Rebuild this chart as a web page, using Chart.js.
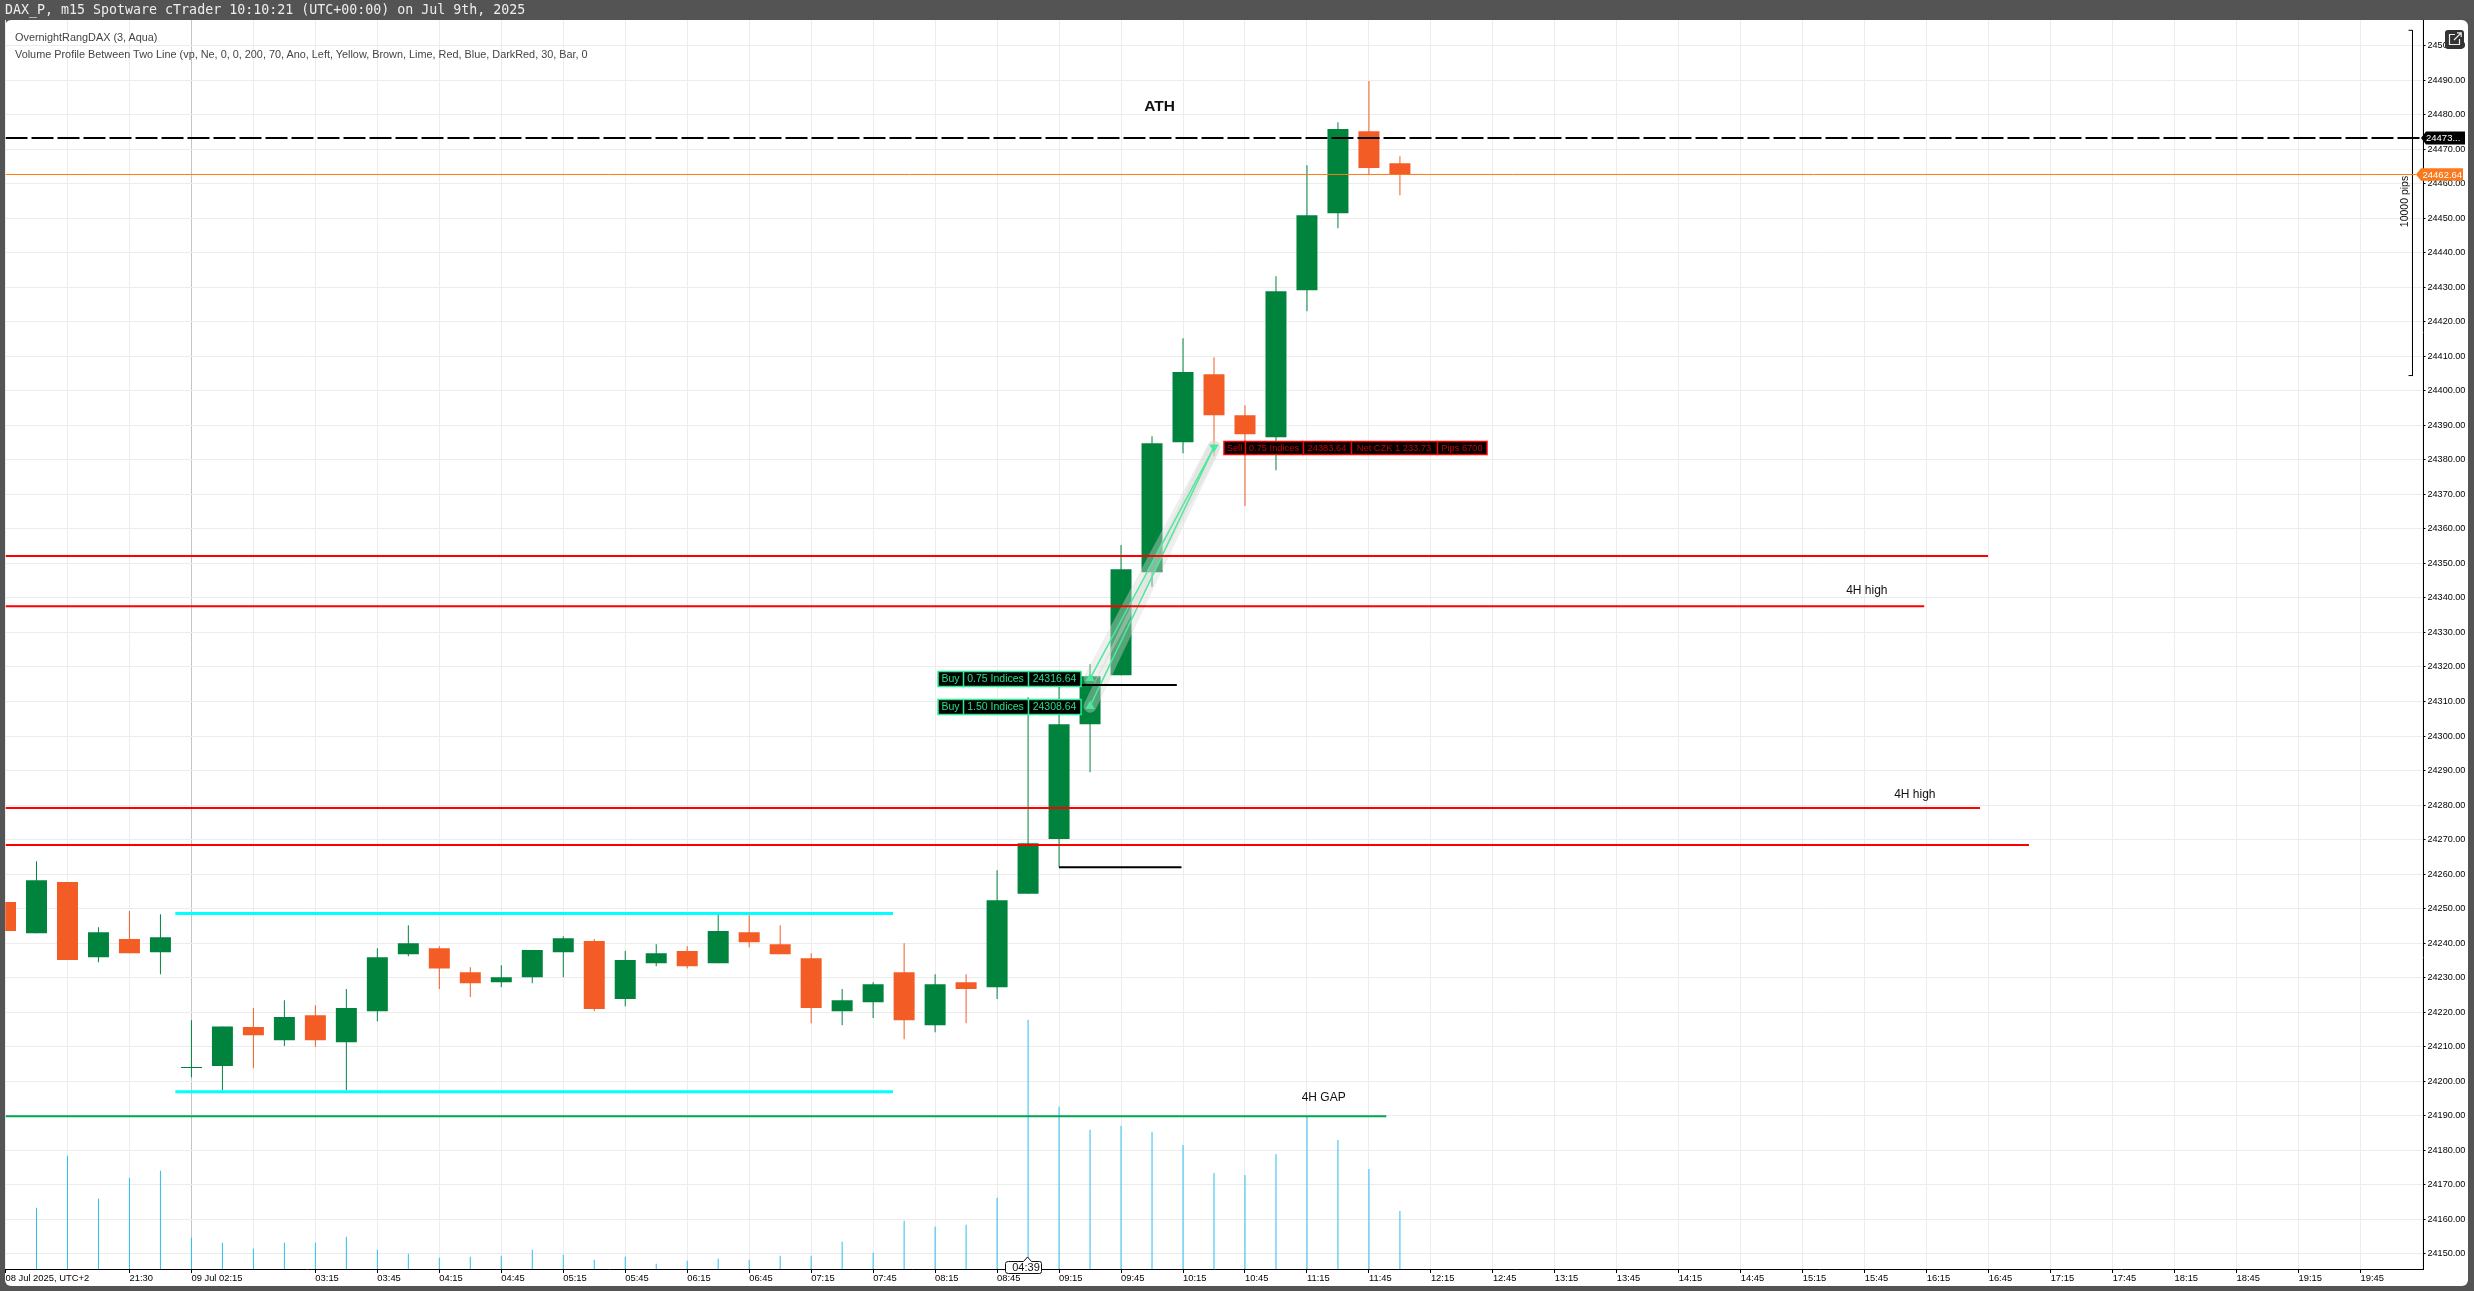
<!DOCTYPE html>
<html>
<head>
<meta charset="utf-8">
<title>DAX_P m15</title>
<style>
  html, body { margin: 0; padding: 0; width: 2474px; height: 1291px; overflow: hidden; background: #545454; }
  #panel { position: absolute; left: 5px; top: 20px; width: 2463px; height: 1266px; background: #fff; border-radius: 6px; }
  #my-chart { position: absolute; left: 0; top: 0; }
  #title { position: absolute; left: 5px; top: 2px; font: 13.3px "DejaVu Sans Mono", monospace; color: #eee; white-space: pre; }
  .indicator { position: absolute; left: 15px; font: 10.86px "Liberation Sans", sans-serif; color: #444; white-space: pre; }
</style>
</head>
<body>
<div id="panel"></div>
<canvas id="my-chart" width="2474" height="1291"></canvas>
<div id="title">DAX_P, m15 Spotware cTrader 10:10:21 (UTC+00:00) on Jul 9th, 2025</div>
<div class="indicator" style="top:31px">OvernightRangDAX (3, Aqua)</div>
<div class="indicator" style="top:48px">Volume Profile Between Two Line (vp, Ne, 0, 0, 200, 70, Ano, Left, Yellow, Brown, Lime, Red, Blue, DarkRed, 30, Bar, 0</div>

<script src="https://cdn.jsdelivr.net/npm/chart.js@4"></script>
<script>
'use strict';

// Candles, one per 15 minute bar
let opens = [24251.9, 24242.9, 24257.7, 24235.9, 24241.2, 24237.4, 24203.85, 24204.4, 24215.7, 24211.9,
  24219.1, 24211.3, 24220.3, 24236.8, 24238.5, 24231.6, 24228.7, 24230.1, 24237.4, 24240.6,
  24223.8, 24234.2, 24237.7, 24234.2, 24243.2, 24239.7, 24235.6, 24220.3, 24222.9, 24231.6,
  24216.2, 24228.7, 24227.2, 24254.3, 24270.2, 24303.4, 24317.6, 24347.4, 24385.1, 24404.8,
  24392.9, 24386.5, 24429.1, 24451.4, 24475.2, 24465.9];
let highs = [24251.9, 24263.7, 24257.7, 24244.6, 24249.3, 24248.4, 24217.7, 24215.9, 24221.2, 24223.5,
  24222.0, 24226.7, 24238.5, 24245.2, 24239.1, 24233.0, 24233.6, 24238.0, 24242.0, 24241.2,
  24237.7, 24239.7, 24239.1, 24249.0, 24249.0, 24245.2, 24237.1, 24226.7, 24228.7, 24240.0,
  24231.0, 24231.0, 24261.1, 24311.2, 24316.2, 24320.8, 24355.3, 24386.8, 24415.2, 24409.7,
  24395.8, 24433.2, 24465.3, 24477.8, 24489.7, 24467.9];
let lows = [24243.5, 24242.9, 24235.1, 24234.5, 24237.1, 24231.0, 24201.2, 24197.4, 24203.8, 24210.2,
  24209.9, 24197.4, 24217.4, 24236.2, 24226.7, 24224.4, 24227.2, 24228.4, 24230.1, 24220.3,
  24221.7, 24233.3, 24232.7, 24234.2, 24238.8, 24236.8, 24216.8, 24216.2, 24218.3, 24212.2,
  24214.2, 24216.8, 24223.8, 24254.3, 24262.0, 24289.5, 24317.6, 24343.2, 24381.9, 24381.0,
  24366.6, 24377.0, 24423.0, 24447.1, 24462.7, 24456.6];
let closes = [24243.5, 24258.2, 24235.1, 24243.2, 24237.1, 24241.7, 24204.15, 24215.9, 24213.3, 24218.6,
  24211.9, 24221.2, 24235.9, 24240.0, 24232.7, 24228.4, 24230.1, 24238.0, 24241.4, 24220.9,
  24235.1, 24237.1, 24233.3, 24243.5, 24240.3, 24236.8, 24221.2, 24223.5, 24228.1, 24217.7,
  24228.1, 24226.7, 24252.4, 24268.95, 24303.4, 24317.3, 24348.3, 24384.8, 24405.4, 24392.9,
  24387.4, 24428.8, 24450.8, 24475.8, 24464.5, 24462.6];

// Tick volume, no scale on the picture so the units are relative
let volumes = [null, 184, 340, 211, 274, 295, 94, 79, 61, 79,
  79, 97, 58, 46, 34, 37, 40, 58, 43, 28,
  37, 16, 25, 31, 28, 40, 40, 82, 49, 145,
  127, 133, 214, 748, 487, 418, 430, 411, 372, 288,
  282, 345, 459, 387, 300, 174];

// One label for every second bar, blank where the platform leaves it out
let timeLabels = ['08 Jul 2025, UTC+2', '', '21:30', '09 Jul 02:15', '', '03:15', '03:45', '04:15', '04:45', '05:15',
  '05:45', '06:15', '06:45', '07:15', '07:45', '08:15', '08:45', '09:15', '09:45', '10:15',
  '10:45', '11:15', '11:45', '12:15', '12:45', '13:15', '13:45', '14:15', '14:45', '15:15',
  '15:45', '16:15', '16:45', '17:15', '17:45', '18:15', '18:45', '19:15', '19:45'];

// Drawn levels: [from bar, to bar, price]
let cyanLevels = [[5.48, 28.64, 24248.6], [5.48, 28.64, 24197.0]];
let greenLevels = [[0, 44.56, 24189.9]];
let redLevels = [[0, 63.98, 24352.17], [0, 61.92, 24337.6], [0, 63.72, 24279.18], [0, 65.3, 24268.46]];
let blackLevels = [[34, 37.95, 24262.0], [34, 37.8, 24314.8]];

let athPrice = 24473.24;
let bidPrice = 24462.64;

let buyPrices = [24316.64, 24308.64];
let sellPrice = 24383.64;
let entryBar = 35;
let exitBar = 39;

let pipsRange = [24504.4, 24404.4];

// Text notes: [text, bar of left edge, price of centre, font]
let notes = [
  ['ATH', 36.75, 24482.3, 'bold 15.5px "Liberation Sans"'],
  ['4H GAP', 41.83, 24195.2, '12px "Liberation Sans"'],
  ['4H high', 59.4, 24342.0, '12px "Liberation Sans"'],
  ['4H high', 60.95, 24282.9, '12px "Liberation Sans"']
];

// Colours
let upColor = '#00843d';
let downColor = '#f35c25';
let volumeColor = '#2dbdf0';
let tradeColor = '#4de89a';

function candleColor(i) {
  return closes[i] >= opens[i] ? upColor : downColor;
}

function levelDataset(level, color, width) {
  return {
    type: 'line',
    data: [{ x: level[0], y: level[2] }, { x: level[1], y: level[2] }],
    borderColor: color,
    borderWidth: width,
    pointRadius: 0,
    order: 1
  };
}

function tradeLine(price, color, width, order) {
  return {
    type: 'line',
    data: [{ x: entryBar, y: price }, { x: exitBar, y: sellPrice }],
    borderColor: color,
    borderWidth: width,
    borderCapStyle: 'round',
    pointRadius: 0,
    order: order
  };
}

let datasets = [];

// volume, behind everything
datasets.push({
  yAxisID: 'vol',
  data: volumes.map((v, i) => ({ x: i, y: v })),
  backgroundColor: volumeColor,
  barThickness: 1,
  maxBarThickness: 1,
  inflateAmount: 0,
  grouped: false,
  order: 6
});

// wicks and bodies
datasets.push({
  data: highs.map((h, i) => ({ x: i, y: [lows[i], h] })),
  backgroundColor: highs.map((h, i) => candleColor(i)),
  barThickness: 1,
  maxBarThickness: 1,
  inflateAmount: 0,
  grouped: false,
  order: 5
});
datasets.push({
  data: opens.map((o, i) => ({ x: i, y: [o, closes[i]] })),
  backgroundColor: opens.map((o, i) => candleColor(i)),
  barThickness: 21,
  maxBarThickness: 21,
  inflateAmount: 0,
  grouped: false,
  order: 4
});

// levels
for (let i = 0; i < cyanLevels.length; i++) {
  datasets.push(levelDataset(cyanLevels[i], '#00ffff', 3));
}
for (let i = 0; i < greenLevels.length; i++) {
  datasets.push(levelDataset(greenLevels[i], '#00a651', 2));
}
for (let i = 0; i < redLevels.length; i++) {
  datasets.push(levelDataset(redLevels[i], '#ff0000', 2));
}
for (let i = 0; i < blackLevels.length; i++) {
  datasets.push(levelDataset(blackLevels[i], '#000000', 2));
}

// price lines
let athLine = levelDataset([0, 78.03, athPrice], '#000000', 2);
athLine.borderDash = [22, 4];
datasets.push(athLine);
datasets.push(levelDataset([0, 77.8, bidPrice], '#ff7b16', 1));

// 10000 pips bracket
datasets.push({
  type: 'line',
  data: [
    { x: 77.55, y: pipsRange[0] }, { x: 77.677, y: pipsRange[0] },
    { x: 77.677, y: pipsRange[1] }, { x: 77.55, y: pipsRange[1] }
  ],
  borderColor: '#000000',
  borderWidth: 1,
  pointRadius: 0,
  order: 1
});

// trades, grey halo first then the thin line
for (let i = 0; i < buyPrices.length; i++) {
  datasets.push(tradeLine(buyPrices[i], 'rgba(215,215,215,0.4)', 13, 3));
  datasets.push(tradeLine(buyPrices[i], tradeColor, 1.5, 2));
}
datasets.push({
  type: 'line',
  showLine: false,
  data: buyPrices.map(p => ({ x: entryBar, y: p })),
  pointStyle: 'triangle',
  pointRadius: 5.5,
  pointBackgroundColor: tradeColor,
  pointBorderWidth: 0,
  order: 0
});
datasets.push({
  type: 'line',
  showLine: false,
  data: [{ x: exitBar, y: sellPrice }],
  pointStyle: 'triangle',
  pointRotation: 180,
  pointRadius: 5.5,
  pointBackgroundColor: tradeColor,
  pointBorderWidth: 0,
  order: 0
});

// Box with cells next to a trade
function drawTradeBox(ctx, left, centerY, height, cells, widths, stroke, fill, font) {
  let total = widths.reduce((a, b) => a + b, 0);
  let top = Math.round(centerY - height / 2) + 0.5;
  ctx.fillStyle = '#000';
  ctx.fillRect(left, top, total, height);
  ctx.strokeStyle = stroke;
  ctx.lineWidth = 1.5;
  ctx.strokeRect(left, top, total, height);
  ctx.font = font;
  ctx.textAlign = 'center';
  ctx.textBaseline = 'middle';
  let x = left;
  for (let i = 0; i < cells.length; i++) {
    ctx.fillStyle = fill;
    ctx.fillText(cells[i], x + widths[i] / 2, top + height / 2 + 0.5);
    x += widths[i];
    if (i < cells.length - 1) {
      ctx.beginPath();
      ctx.moveTo(Math.round(x) + 0.5, top);
      ctx.lineTo(Math.round(x) + 0.5, top + height);
      ctx.stroke();
    }
  }
}

// Price tag on the right axis, arrow pointing left
function drawPriceTag(ctx, left, centerY, right, height, color, text, textX) {
  let top = centerY - height / 2;
  ctx.fillStyle = color;
  ctx.beginPath();
  ctx.moveTo(left, centerY);
  ctx.lineTo(left + 5, top);
  ctx.lineTo(right, top);
  ctx.lineTo(right, top + height);
  ctx.lineTo(left + 5, top + height);
  ctx.closePath();
  ctx.fill();
  ctx.fillStyle = '#fff';
  ctx.font = '9.5px "Liberation Sans"';
  ctx.textAlign = 'left';
  ctx.textBaseline = 'middle';
  ctx.fillText(text, textX, centerY + 0.5);
}

let overlayPlugin = {
  id: 'overlay',
  afterDraw(chart) {
    let ctx = chart.ctx;
    let xs = chart.scales.x;
    let ys = chart.scales.y;
    ctx.save();

    // notes
    ctx.fillStyle = '#111';
    ctx.textAlign = 'left';
    ctx.textBaseline = 'middle';
    for (let i = 0; i < notes.length; i++) {
      ctx.font = notes[i][3];
      ctx.fillText(notes[i][0], xs.getPixelForValue(notes[i][1]), ys.getPixelForValue(notes[i][2]));
    }

    // trade boxes
    let buyWidths = [25, 65, 53];
    let buyRight = xs.getPixelForValue(entryBar) - 9;
    drawTradeBox(ctx, buyRight - 143, ys.getPixelForValue(buyPrices[0]), 15,
      ['Buy', '0.75 Indices', buyPrices[0].toFixed(2)], buyWidths, '#28f090', '#1fe08a', '10.5px "Liberation Sans"');
    drawTradeBox(ctx, buyRight - 143, ys.getPixelForValue(buyPrices[1]), 15,
      ['Buy', '1.50 Indices', buyPrices[1].toFixed(2)], buyWidths, '#28f090', '#1fe08a', '10.5px "Liberation Sans"');
    drawTradeBox(ctx, xs.getPixelForValue(exitBar) + 10, ys.getPixelForValue(sellPrice), 13,
      ['Sell', '0.75 Indices', sellPrice.toFixed(2), 'Net CZK 1 233.73', 'Pips 6700'], [21, 58, 48, 86, 50],
      '#ff0000', '#d00000', '9.3px "Liberation Sans"');

    // pips text
    ctx.save();
    ctx.translate(2405, 201.5);
    ctx.rotate(-Math.PI / 2);
    ctx.fillStyle = '#111';
    ctx.font = '10.5px "Liberation Sans"';
    ctx.textAlign = 'center';
    ctx.textBaseline = 'middle';
    ctx.fillText('10000 pips', 0, 0);
    ctx.restore();

    // price tags
    drawPriceTag(ctx, 2421, ys.getPixelForValue(athPrice), 2465, 13, '#000', '24473...', 2426);
    drawPriceTag(ctx, 2416, ys.getPixelForValue(bidPrice), 2463, 12.5, '#f97a1e', bidPrice.toFixed(2), 2422.5);

    // bar countdown
    ctx.fillStyle = '#fff';
    ctx.strokeStyle = '#111';
    ctx.lineWidth = 1;
    ctx.beginPath();
    ctx.moveTo(1008.5, 1261.5);
    ctx.lineTo(1023.5, 1261.5);
    ctx.lineTo(1027.5, 1257);
    ctx.lineTo(1031.5, 1261.5);
    ctx.lineTo(1039.5, 1261.5);
    ctx.quadraticCurveTo(1041.5, 1261.5, 1041.5, 1263.5);
    ctx.lineTo(1041.5, 1271.5);
    ctx.quadraticCurveTo(1041.5, 1273.5, 1039.5, 1273.5);
    ctx.lineTo(1008.5, 1273.5);
    ctx.quadraticCurveTo(1005.5, 1273.5, 1005.5, 1271.5);
    ctx.lineTo(1005.5, 1263.5);
    ctx.quadraticCurveTo(1005.5, 1261.5, 1008.5, 1261.5);
    ctx.closePath();
    ctx.fill();
    ctx.stroke();
    ctx.fillStyle = '#111';
    ctx.font = '11px "Liberation Sans"';
    ctx.textAlign = 'center';
    ctx.textBaseline = 'middle';
    ctx.fillText('04:39', 1026, 1268);

    // external link button
    ctx.fillStyle = '#333';
    ctx.beginPath();
    ctx.roundRect(2445, 30, 19, 19, 3);
    ctx.fill();
    ctx.strokeStyle = '#eee';
    ctx.lineWidth = 1.2;
    ctx.beginPath();
    ctx.moveTo(2455, 34.5);
    ctx.lineTo(2449.5, 34.5);
    ctx.lineTo(2449.5, 44.5);
    ctx.lineTo(2459.5, 44.5);
    ctx.lineTo(2459.5, 39);
    ctx.moveTo(2454, 40);
    ctx.lineTo(2461, 33);
    ctx.moveTo(2457, 32.8);
    ctx.lineTo(2461.2, 32.8);
    ctx.lineTo(2461.2, 37);
    ctx.stroke();

    ctx.restore();
  }
};

let chartObject = {
  type: 'bar',
  data: { datasets: datasets },
  plugins: [overlayPlugin],
  options: {
    responsive: false,
    animation: false,
    indexAxis: 'x',
    layout: { padding: { left: 4.5, top: 20, right: 0, bottom: 0 } },
    plugins: {
      legend: { display: false },
      tooltip: { enabled: false }
    },
    scales: {
      x: {
        type: 'linear',
        offset: false,
        min: 0,
        max: 78.03226,
        afterFit(scale) { scale.height = 22; },
        grid: {
          offset: false,
          tickLength: 4,
          color: ctx => (ctx.tick && ctx.tick.value === 6 ? '#c4c4c4' : '#ececec'),
          tickColor: ctx => (ctx.tick && timeLabels[ctx.tick.value / 2] ? '#000' : 'rgba(0,0,0,0)')
        },
        border: { color: '#000', width: 1 },
        ticks: {
          stepSize: 2,
          includeBounds: false,
          autoSkip: false,
          maxRotation: 0,
          align: 'start',
          padding: 0,
          color: '#000',
          font: { family: 'Liberation Sans', size: 9.4 },
          callback: value => timeLabels[value / 2] || ''
        }
      },
      y: {
        type: 'linear',
        position: 'right',
        min: 24145.63,
        max: 24507.386,
        afterFit(scale) { scale.width = 50.5; },
        grid: { tickLength: 2, color: '#ececec', tickColor: '#000' },
        border: { color: '#000', width: 1 },
        ticks: {
          stepSize: 10,
          includeBounds: false,
          padding: 2,
          color: '#000',
          font: { family: 'Liberation Sans', size: 9.1 },
          callback: value => value.toFixed(2)
        }
      },
      vol: {
        type: 'linear',
        display: false,
        min: 0,
        max: 3747
      }
    }
  }
};

const priceChart = new Chart(document.getElementById('my-chart'), chartObject);
</script>
</body>
</html>
